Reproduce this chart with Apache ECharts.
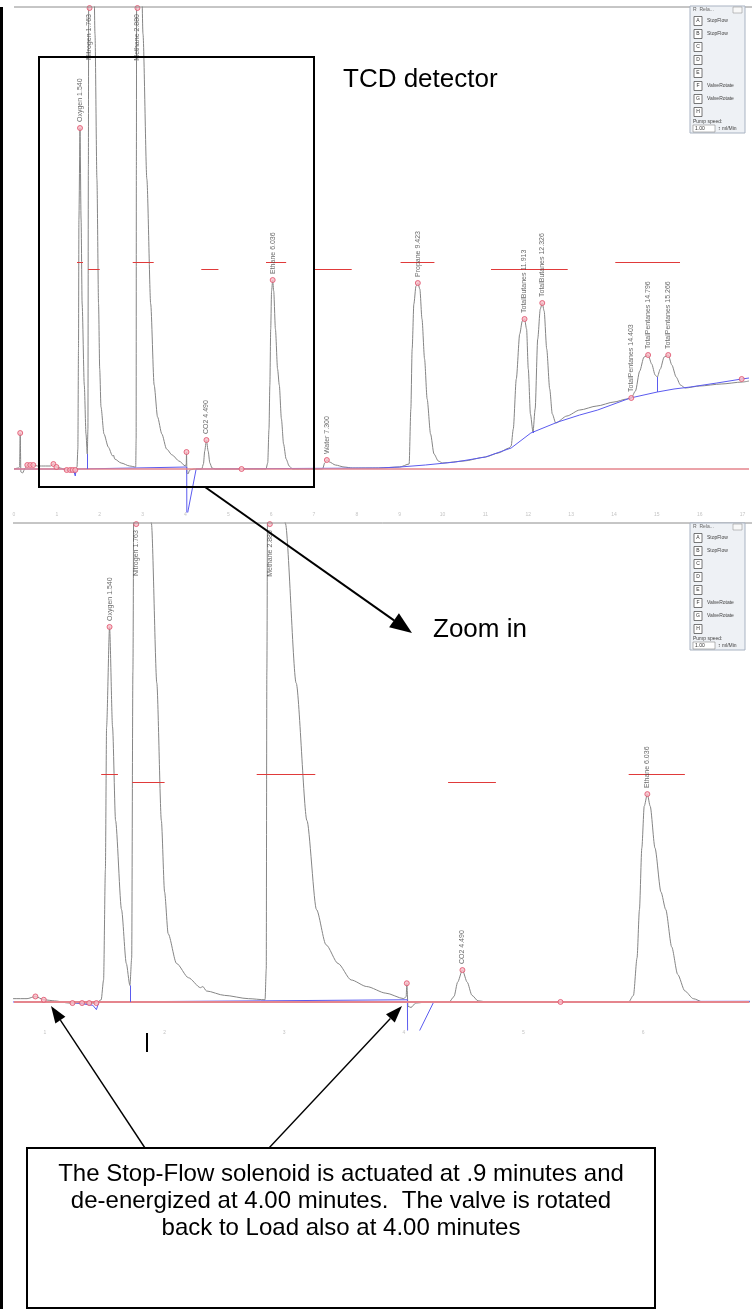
<!DOCTYPE html>
<html>
<head>
<meta charset="utf-8">
<script src="https://cdn.jsdelivr.net/npm/echarts@6/dist/echarts.min.js"></script>
<style>
html, body { margin: 0; padding: 0; background: #fff; }
#chart { width: 752px; height: 1309px; }
</style>
</head>
<body>
<div id="chart"></div>
<script>
// Named peaks (retention time in minutes, apex height in detector units)
const peakNames = ['Oxygen', 'Nitrogen', 'Methane', 'CO2', 'Ethane', 'Water', 'Propane',
  'TotalButanes', 'TotalButanes', 'TotalPentanes', 'TotalPentanes', 'TotalPentanes'];
const peakTimes = [1.540, 1.763, 2.880, 4.490, 6.036, 7.300, 9.423, 11.913, 12.326, 14.403, 14.796, 15.266];
const peakHeights = [341, 900, 720, 29, 189, 9, 186, 150, 166, 71, 114, 114];

// Unlabelled integration marks
const markTimes = [0.145, 0.31, 0.38, 0.45, 0.92, 0.99, 1.23, 1.31, 1.37, 1.43, 4.025, 5.31, 16.98];
const markHeights = [36, 4, 4, 4, 5, 2, -1, -1, -1, -1, 17, 0, 90];

// Peak window bars (red)
const windowStart = [1.47, 1.73, 2.77, 4.37, 5.88, 7.00, 9.02, 11.13, 14.03];
const windowEnd = [1.61, 2.00, 3.26, 4.77, 6.35, 7.88, 9.81, 12.92, 15.54];
const windowLevel = [207, 200, 207, 200, 207, 200, 207, 200, 207];

// Detector signal [time, value]
const signal = [
  [0.00, 0], [0.10, 1], [0.13, 2], [0.145, 36], [0.16, -3], [0.20, -4], [0.26, 1], [0.31, 4], [0.38, 4],
  [0.45, 4], [0.55, 3], [0.74, 3], [0.85, 3], [0.92, 5], [0.99, 2], [1.08, 1], [1.20, -1], [1.30, -1],
  [1.43, -1], [1.47, 2], [1.49, 20], [1.505, 120], [1.515, 250], [1.54, 341], [1.565, 250], [1.59, 165],
  [1.64, 84], [1.68, 35], [1.71, 15], [1.725, 40], [1.735, 300], [1.75, 700], [1.763, 900], [1.83, 640],
  [1.89, 435], [1.935, 290], [1.973, 165], [2.00, 100], [2.03, 62], [2.10, 35], [2.20, 22], [2.30, 13],
  [2.32, 14], [2.35, 10], [2.50, 6], [2.70, 3], [2.84, 2], [2.85, 30], [2.855, 300], [2.865, 600],
  [2.88, 720], [2.94, 600], [3.01, 435], [3.10, 290], [3.19, 165], [3.27, 84], [3.35, 52], [3.45, 35],
  [3.56, 20], [3.69, 14], [3.85, 8], [4.00, 3], [4.02, 5], [4.025, 17], [4.035, -4], [4.06, -5],
  [4.10, -1], [4.20, 0], [4.38, 0], [4.42, 5], [4.45, 18], [4.49, 29], [4.53, 18], [4.57, 6], [4.62, 1],
  [4.70, 0], [5.30, 0], [5.88, 0], [5.92, 6], [5.95, 40], [5.97, 84], [5.99, 140], [6.01, 178],
  [6.036, 189], [6.06, 178], [6.10, 140], [6.15, 100], [6.19, 84], [6.24, 50], [6.29, 25], [6.35, 10],
  [6.42, 3], [6.50, 0], [7.20, 0], [7.25, 6], [7.30, 9], [7.36, 7], [7.50, 4], [7.70, 2], [7.90, 1],
  [8.50, 1], [9.00, 2], [9.22, 5], [9.26, 60], [9.29, 120], [9.33, 165], [9.38, 183], [9.423, 186],
  [9.47, 180], [9.52, 150], [9.58, 110], [9.64, 70], [9.72, 35], [9.80, 15], [9.90, 8], [10.0, 6],
  [10.5, 8], [11.0, 12], [11.3, 16], [11.55, 21], [11.60, 23], [11.65, 40], [11.72, 90], [11.80, 135],
  [11.86, 148], [11.913, 150], [11.96, 140], [12.00, 100], [12.05, 55], [12.11, 37], [12.16, 60],
  [12.22, 130], [12.28, 160], [12.326, 166], [12.37, 158], [12.43, 120], [12.50, 80], [12.56, 55],
  [12.64, 46], [12.9, 53], [13.2, 59], [13.6, 63], [14.0, 67], [14.3, 70], [14.403, 71], [14.5, 78],
  [14.6, 98], [14.7, 112], [14.796, 114], [14.88, 105], [14.96, 94], [15.01, 92], [15.08, 100],
  [15.17, 112], [15.266, 114], [15.35, 104], [15.45, 92], [15.55, 84], [15.66, 81], [16.0, 83],
  [16.5, 85], [17.0, 87], [17.15, 88]
];

// Integration baseline (blue)
const baseline = [
  [0, 0], [1.20, 0], [1.40, -3], [1.43, -7], [1.45, 0], [2.80, 1], [4.03, 2], [4.033, -48], [4.25, 0],
  [8.50, 1], [9.00, 2], [9.60, 4], [10.3, 7], [11.0, 12], [11.6, 21], [12.06, 36], [12.69, 47],
  [13.2, 54], [13.62, 59], [14.0, 65], [14.38, 71], [15.01, 77], [15.4, 80], [15.78, 82], [16.4, 86],
  [16.98, 90], [17.15, 91]
];
const dropTimes = [1.71, 12.11, 15.01];
const dropFrom = [0, 36, 77];
const dropTo = [15, 38, 92];

// Relay panel
const relayLetters = ['A', 'B', 'C', 'D', 'E', 'F', 'G', 'H'];
const relayNames = ['StopFlow', 'StopFlow', '', '', '', 'ValveRotate', 'ValveRotate', ''];

const panels = [
  { top: 7, height: 505, xMin: 0, xMax: 17.15, yMin: -43, yMax: 462 },
  { top: 523, height: 507, xMin: 0.741, xMax: 6.886, yMin: -25.5, yMax: 435.5 }
];

const FONT = '"Liberation Sans", Arial, sans-serif';

const grids = [], xAxes = [], yAxes = [], series = [];
panels.forEach(function (p, k) {
  grids.push({ left: 14, top: p.top, width: 738, height: p.height });
  xAxes.push({
    type: 'value', gridIndex: k, min: p.xMin, max: p.xMax,
    interval: k === 0 ? 1 : undefined, splitNumber: 6,
    axisLine: { show: false }, axisTick: { show: false }, splitLine: { show: false },
    axisLabel: {
      fontSize: 5, color: '#c4c4c4', margin: 0, fontFamily: FONT,
      formatter: function (v) { return Math.abs(v - Math.round(v)) < 1e-6 ? String(Math.round(v)) : ''; }
    }
  });
  yAxes.push({ type: 'value', gridIndex: k, min: p.yMin, max: p.yMax, show: false });

  series.push({
    type: 'line', xAxisIndex: k, yAxisIndex: k, data: signal, showSymbol: false,
    smooth: 0.25, smoothMonotone: 'x', z: 3,
    lineStyle: { color: '#858585', width: 1 },
    markLine: {
      silent: true, symbol: 'none', label: { show: false },
      lineStyle: { color: '#e5858d', width: k === 0 ? 1.5 : 2, type: 'solid' },
      data: [{ yAxis: 0 }]
    }
  });
  series.push({
    type: 'line', xAxisIndex: k, yAxisIndex: k, data: baseline, showSymbol: false, z: 4,
    lineStyle: { color: '#5b5bef', width: 1 },
    markLine: {
      silent: true, symbol: 'none', label: { show: false },
      lineStyle: { color: '#5b5bef', width: 1, type: 'solid' },
      data: dropTimes.map(function (t, i) { return [{ coord: [t, dropFrom[i]] }, { coord: [t, dropTo[i]] }]; })
    }
  });
  series.push({
    type: 'scatter', xAxisIndex: k, yAxisIndex: k, z: 5, clip: true,
    data: markTimes.map(function (t, i) { return [t, markHeights[i]]; }),
    symbolSize: 5, itemStyle: { color: '#f7bcc6', borderColor: '#e0506a', borderWidth: 1 },
    markLine: {
      silent: true, symbol: 'none', label: { show: false },
      lineStyle: { color: '#e03a3a', width: 1, type: 'solid' },
      data: windowStart.map(function (s, i) { return [{ coord: [s, windowLevel[i]] }, { coord: [windowEnd[i], windowLevel[i]] }]; })
    }
  });
  series.push({
    type: 'scatter', xAxisIndex: k, yAxisIndex: k, z: 6, clip: true,
    symbolSize: 5, itemStyle: { color: '#f7bcc6', borderColor: '#e0506a', borderWidth: 1 },
    data: peakTimes.map(function (t, i) {
      const over = peakHeights[i] >= p.yMax;
      return {
        name: peakNames[i] + ' ' + t.toFixed(3),
        value: [t, over ? p.yMax - 1 : peakHeights[i]],
        label: {
          show: true, rotate: 90, formatter: '{b}', fontSize: 7, color: '#444', fontFamily: FONT,
          position: over ? 'bottom' : 'top', distance: 3,
          align: over ? 'right' : 'left', verticalAlign: 'middle'
        }
      };
    })
  });
});

function arrow(x1, y1, x2, y2, head, width, lw) {
  const a = Math.atan2(y2 - y1, x2 - x1);
  const bx = x2 - head * Math.cos(a), by = y2 - head * Math.sin(a);
  const px = -Math.sin(a) * width / 2, py = Math.cos(a) * width / 2;
  return [
    { type: 'line', z: 100, shape: { x1: x1, y1: y1, x2: bx, y2: by }, style: { stroke: '#000', lineWidth: lw } },
    { type: 'polygon', z: 100, shape: { points: [[x2, y2], [bx + px, by + py], [bx - px, by - py]] }, style: { fill: '#000' } }
  ];
}

function relayPanel(x, y) {
  const els = [];
  els.push({ type: 'rect', z: 90, shape: { x: x, y: y, width: 55, height: 127 }, style: { fill: '#eef1f5', stroke: '#a9b3c2', lineWidth: 1 } });
  els.push({ type: 'text', z: 91, x: x + 3, y: y + 4, style: { text: 'R  Rela...', font: '5px ' + FONT, fill: '#666', verticalAlign: 'middle' } });
  els.push({ type: 'rect', z: 91, shape: { x: x + 43, y: y + 1, width: 9, height: 6 }, style: { fill: '#f8f8f8', stroke: '#999', lineWidth: 0.6 } });
  relayLetters.forEach(function (L, i) {
    const ry = y + 15 + i * 13;
    els.push({ type: 'rect', z: 91, shape: { x: x + 4, y: ry - 4.5, width: 8, height: 9 }, style: { fill: '#fff', stroke: '#555', lineWidth: 0.8 } });
    els.push({ type: 'text', z: 92, x: x + 8, y: ry, style: { text: L, font: '5px ' + FONT, fill: '#333', align: 'center', verticalAlign: 'middle' } });
    if (relayNames[i]) {
      els.push({ type: 'text', z: 92, x: x + 17, y: ry, style: { text: relayNames[i], font: '5px ' + FONT, fill: '#444', verticalAlign: 'middle' } });
    }
  });
  els.push({ type: 'text', z: 92, x: x + 3, y: y + 116, style: { text: 'Pump speed:', font: '5px ' + FONT, fill: '#444', verticalAlign: 'middle' } });
  els.push({ type: 'rect', z: 91, shape: { x: x + 3, y: y + 119, width: 22, height: 7 }, style: { fill: '#fff', stroke: '#888', lineWidth: 0.6 } });
  els.push({ type: 'text', z: 92, x: x + 5, y: y + 122.5, style: { text: '1.00', font: '5px ' + FONT, fill: '#333', verticalAlign: 'middle' } });
  els.push({ type: 'text', z: 92, x: x + 28, y: y + 122.5, style: { text: '\u2195 ml/Min', font: '5px ' + FONT, fill: '#444', verticalAlign: 'middle' } });
  return els;
}

const noteLines = [
  'The Stop-Flow solenoid is actuated at .9 minutes and',
  'de-energized at 4.00 minutes.  The valve is rotated',
  'back to Load also at 4.00 minutes'
];

let graphics = [
  { type: 'rect', z: 100, shape: { x: 0, y: 7, width: 3, height: 1302 }, style: { fill: '#000' } },
  { type: 'line', z: 50, shape: { x1: 14, y1: 7, x2: 752, y2: 7 }, style: { stroke: '#8c8c8c', lineWidth: 1 } },
  { type: 'line', z: 50, shape: { x1: 13, y1: 523, x2: 752, y2: 523 }, style: { stroke: '#8c8c8c', lineWidth: 1 } },
  { type: 'rect', z: 100, shape: { x: 39, y: 57, width: 275, height: 430 }, style: { fill: 'none', stroke: '#000', lineWidth: 2 } },
  { type: 'text', z: 100, x: 343, y: 80, style: { text: 'TCD detector', font: '26px ' + FONT, fill: '#000', verticalAlign: 'middle' } },
  { type: 'text', z: 100, x: 433, y: 630, style: { text: 'Zoom in', font: '26px ' + FONT, fill: '#000', verticalAlign: 'middle' } },
  { type: 'line', z: 100, shape: { x1: 147, y1: 1033, x2: 147, y2: 1052 }, style: { stroke: '#000', lineWidth: 2 } },
  { type: 'rect', z: 100, shape: { x: 27, y: 1148, width: 628, height: 160 }, style: { fill: '#fff', stroke: '#000', lineWidth: 2 } }
];
noteLines.forEach(function (t, i) {
  graphics.push({ type: 'text', z: 101, x: 341, y: 1174 + i * 27, style: { text: t, font: '24px ' + FONT, fill: '#000', align: 'center', verticalAlign: 'middle' } });
});
graphics = graphics
  .concat(arrow(205, 487, 412, 633, 22, 17, 2))
  .concat(arrow(145, 1148, 51, 1006, 17, 12, 1.4))
  .concat(arrow(269, 1148, 402, 1006, 17, 12, 1.4))
  .concat(relayPanel(690, 6))
  .concat(relayPanel(690, 523));

const chart = echarts.init(document.getElementById('chart'));
chart.setOption({
  animation: false,
  backgroundColor: '#fff',
  grid: grids,
  xAxis: xAxes,
  yAxis: yAxes,
  series: series,
  graphic: graphics
});
window.addEventListener('resize', function () { chart.resize(); });
</script>
</body>
</html>
